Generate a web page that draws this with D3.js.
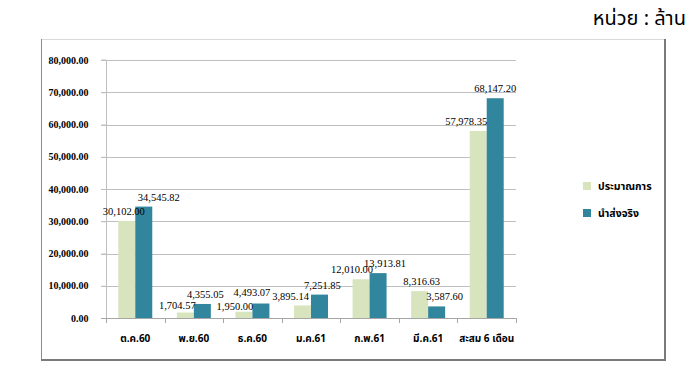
<!DOCTYPE html>
<html>
<head>
<meta charset="utf-8">
<script src="https://cdn.jsdelivr.net/npm/d3@7"></script>
<style>
  body { margin: 0; background: #fff; }
  svg { display: block; }
  .tick-y { font-family: "Liberation Serif", serif; font-weight: bold; font-size: 10px; fill: #000; }
  .val { font-family: "Liberation Serif", serif; font-size: 10.5px; fill: #000; }
  .cat { font-family: "Noto Sans Thai", "Tahoma", sans-serif; font-weight: bold; font-size: 10px; fill: #000; }
  .leg { font-family: "Noto Sans Thai", "Tahoma", sans-serif; font-weight: bold; font-size: 10.5px; fill: #000; }
  .unit { font-family: "Noto Sans Thai", "Tahoma", sans-serif; font-size: 20px; fill: #000; }
</style>
</head>
<body>
<svg id="chart" width="700" height="385"></svg>
<script>
// data
const categories = ["ต.ค.60", "พ.ย.60", "ธ.ค.60", "ม.ค.61", "ก.พ.61", "มี.ค.61", "สะสม 6 เดือน"];
const seriesNames = ["ประมาณการ", "นำส่งจริง"];
const estimate = [30102.00, 1704.57, 1950.00, 3895.14, 12010.00, 8316.63, 57978.35];
const actual = [34545.82, 4355.05, 4493.07, 7251.85, 13913.81, 3587.60, 68147.20];
const yTicks = [0, 10000, 20000, 30000, 40000, 50000, 60000, 70000, 80000];
// nudges of the value labels (as placed in the original)
const estNudge = [-3, -8, -9, -12, -9, 2, -12];
const actNudge = [15, 3, -9, 3, 7, 8, 0];
const estDrop = [0, 2, 4, 1, 0, 0, 0];
const actDrop = [0, 0, -2, 0, 0, 0, 0];

const colors = ["#d7e4bd", "#31859c"];

const svg = d3.select("#chart");

// frame
svg.append("line").attr("x1", 41).attr("x2", 665).attr("y1", 39.5).attr("y2", 39.5).attr("stroke", "#d9d9d9");
svg.append("line").attr("x1", 41.5).attr("x2", 41.5).attr("y1", 39).attr("y2", 360).attr("stroke", "#8c8c8c");
svg.append("line").attr("x1", 665).attr("x2", 665).attr("y1", 39).attr("y2", 361).attr("stroke", "#7a7a7a").attr("stroke-width", 2);
svg.append("line").attr("x1", 41).attr("x2", 666).attr("y1", 360).attr("y2", 360).attr("stroke", "#7a7a7a").attr("stroke-width", 2);

// unit
svg.append("text").attr("class", "unit")
  .attr("x", 686).attr("y", 25).attr("text-anchor", "end")
  .text("หน่วย : ล้าน");

const x = d3.scaleBand().domain(categories).range([106, 516]).paddingInner(0.42).paddingOuter(0.21);
const x1 = d3.scaleBand().domain(seriesNames).range([0, x.bandwidth()]);
const y = d3.scaleLinear().domain([0, 80000]).range([318, 60]);

// grid
svg.append("g").selectAll("line").data(yTicks.slice(1)).enter().append("line")
  .attr("x1", 101).attr("x2", 516)
  .attr("y1", d => Math.round(y(d)) + 0.5).attr("y2", d => Math.round(y(d)) + 0.5)
  .attr("stroke", "#bfbfbf");

// y axis
const yAxis = svg.append("g").attr("transform", "translate(106.5,0)")
  .call(d3.axisLeft(y).tickValues(yTicks).tickSize(5).tickFormat(d3.format(",.2f")));
yAxis.select(".domain").attr("stroke", "#bfbfbf").attr("d", "M-5," + y(80000) + "H0V" + y(0));
yAxis.selectAll(".tick line").attr("stroke", "#bfbfbf");
yAxis.selectAll(".tick text").attr("class", "tick-y").attr("x", -18).attr("font-family", null).attr("font-size", null);

// bars
const groups = svg.append("g").selectAll("g").data(categories).enter().append("g")
  .attr("transform", d => "translate(" + x(d) + ",0)");

groups.append("rect")
  .attr("x", x1(seriesNames[0])).attr("width", x1.bandwidth())
  .attr("y", (d, i) => y(estimate[i])).attr("height", (d, i) => y(0) - y(estimate[i]))
  .attr("fill", colors[0]);
groups.append("rect")
  .attr("x", x1(seriesNames[1])).attr("width", x1.bandwidth())
  .attr("y", (d, i) => y(actual[i])).attr("height", (d, i) => y(0) - y(actual[i]))
  .attr("fill", colors[1]);

// x axis
const edges = categories.map(c => x(c) - x.step() * x.paddingInner() / 2).concat([516]);
svg.append("line").attr("x1", 101).attr("x2", 516).attr("y1", 318.5).attr("y2", 318.5).attr("stroke", "#a6a6a6");
svg.append("g").selectAll("line").data(edges).enter().append("line")
  .attr("x1", d => Math.round(d) + 0.5).attr("x2", d => Math.round(d) + 0.5)
  .attr("y1", 318).attr("y2", 323).attr("stroke", "#a6a6a6");

svg.append("g").selectAll("text").data(categories).enter().append("text")
  .attr("class", "cat")
  .attr("x", d => x(d) + x.bandwidth() / 2).attr("y", 342)
  .attr("text-anchor", "middle").text(d => d);

// value labels
const fmt = d3.format(",.2f");
groups.append("text").attr("class", "val").attr("text-anchor", "middle")
  .attr("x", (d, i) => x1(seriesNames[0]) + x1.bandwidth() / 2 + estNudge[i])
  .attr("y", (d, i) => y(estimate[i]) - 6 + estDrop[i])
  .text((d, i) => fmt(estimate[i]));
groups.append("text").attr("class", "val").attr("text-anchor", "middle")
  .attr("x", (d, i) => x1(seriesNames[1]) + x1.bandwidth() / 2 + actNudge[i])
  .attr("y", (d, i) => y(actual[i]) - 6 + actDrop[i])
  .text((d, i) => fmt(actual[i]));

// legend
const leg = svg.append("g").selectAll("g").data(seriesNames).enter().append("g")
  .attr("transform", (d, i) => "translate(583," + (182 + i * 27) + ")");
leg.append("rect").attr("width", 8).attr("height", 8).attr("fill", (d, i) => colors[i]);
leg.append("text").attr("class", "leg").attr("x", 15).attr("y", 8).text(d => d);
</script>
</body>
</html>
